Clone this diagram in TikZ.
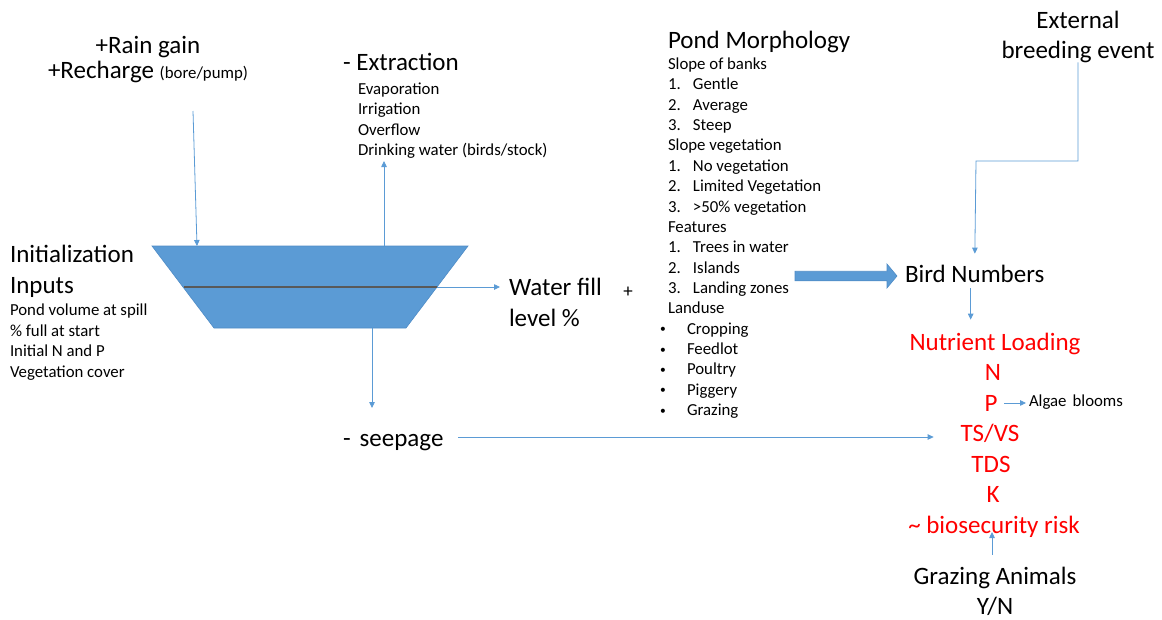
\documentclass[tikz,border=0pt]{standalone}
\usepackage{fontspec}
\setmainfont{Carlito}
\usetikzlibrary{calc,positioning,arrows.meta}

\definecolor{pondblue}{HTML}{5B9BD5}
\definecolor{pondedge}{HTML}{4F8CC6}
\definecolor{loadred}{HTML}{FF0000}
\definecolor{levelgray}{HTML}{595959}

\newcommand{\numitem}[2]{\makebox[25pt][l]{#1}#2}
\newcommand{\dotitem}[1]{\hspace*{-8pt}\makebox[27pt][l]{\raisebox{1.3pt}{\fontsize{11.5}{11.5}\selectfont\textbullet}}#1}

\begin{document}
\begin{tikzpicture}[
  x=1pt, y=-1pt,
  big text/.style={
    font=\fontsize{25}{30.5}\selectfont,
    inner sep=0pt, outer sep=0pt,
    align=left
  },
  small text/.style={
    font=\fontsize{16.8}{20.35}\selectfont,
    inner sep=0pt, outer sep=0pt,
    align=left
  },
  load text/.style={
    big text,
    text=loadred
  },
  flow/.style={
    draw=pondblue,
    line width=0.8pt,
    -{Triangle[length=6pt,width=5.5pt]}
  },
  pond/.style={
    fill=pondblue,
    draw=pondedge,
    line width=0.6pt
  },
  level line/.style={
    draw=levelgray,
    line width=1.6pt
  },
  fat arrow/.style={
    fill=pondblue,
    draw=pondedge,
    line width=0.6pt
  }
  ]
\useasboundingbox (0,0) rectangle (1162,619);
% Pond
\coordinate (pond tl) at (152,246);
\coordinate (pond tr) at (468,246);
\coordinate (pond br) at (406,328);
\coordinate (pond bl) at (214,328);
\coordinate (pond ml) at (183.5,287);
\coordinate (pond mr) at (437,287);
\filldraw [pond] (pond tl) -- (pond tr) -- (pond br) -- (pond bl) -- cycle;
\draw [level line] (pond ml) -- (pond mr);
% Rain gain (multi-line nodes sit on the baseline of their last line)
\node [big text, align=center, anchor=base, font=\fontsize{25}{25}\selectfont] (rain) at (148,78)
  {+Rain gain\\ +Recharge {\fontsize{16.8}{20}\selectfont (bore/pump)}};
\coordinate (rain drop) at (193,111);
\coordinate (pond rain) at (197,246);
\draw [flow] (rain drop) -- (pond rain);
% Extraction
\node [big text, anchor=base west] (extraction) at (343,70) {- Extraction};
\node [small text, anchor=base west] (extraction list) at (358,155.5)
  {Evaporation\\ Irrigation\\ Overflow\\ Drinking water (birds/stock)};
\coordinate (pond extract) at (384,246);
\coordinate (extract tip) at (384,161);
\draw [flow] (pond extract) -- (extract tip);
% Initialization
\node [big text, anchor=base west] (init) at (10,293) {Initialization\\ Inputs};
\node [small text, anchor=base west] (init list) at (10,377)
  {Pond volume at spill\\ \% full at start\\ Initial N and P\\ Vegetation cover};
% Water fill level
\node [big text, anchor=base west] (water fill) at (509,326) {Water fill\\ level \%};
\node [small text, font=\fontsize{19}{20}\selectfont] (plus) at (628,292) {+};
\coordinate (water in) at (500,287);
\draw [flow] (pond mr) -- (water in);
% Seepage
\node [big text, anchor=base west] (seepage) at (343,446) {-\hspace{9pt}seepage};
\coordinate (pond drain) at (372,328);
\coordinate (drain tip) at (372,408);
\draw [flow] (pond drain) -- (drain tip);
% Pond Morphology
\node [big text, anchor=base west] (morphology) at (668,48) {Pond Morphology};
\node [small text, anchor=base west] (morphology list) at (668,415.5)
  {Slope of banks\\
   \numitem{1.}{Gentle}\\
   \numitem{2.}{Average}\\
   \numitem{3.}{Steep}\\
   Slope vegetation\\
   \numitem{1.}{No vegetation}\\
   \numitem{2.}{Limited Vegetation}\\
   \numitem{3.}{>50\% vegetation}\\
   Features\\
   \numitem{1.}{Trees in water}\\
   \numitem{2.}{Islands}\\
   \numitem{3.}{Landing zones}\\
   Landuse\\
   \dotitem{Cropping}\\
   \dotitem{Feedlot}\\
   \dotitem{Poultry}\\
   \dotitem{Piggery}\\
   \dotitem{Grazing}};
% Bird Numbers
\node [big text, anchor=base west] (birds) at (905,282) {Bird Numbers};
\coordinate (morph out) at (795,276);
\filldraw [fat arrow] ($(morph out)+(0,-4.75)$) -- ++(92,0) -- ++(0,-7.25) -- ++(10,12)
  -- ++(-10,12) -- ++(0,-7.25) -- ++(-92,0) -- cycle;
% External breeding event
\node [big text, align=center, anchor=base, font=\fontsize{25}{30}\selectfont] (breeding) at (1078,58)
  {External\\ breeding event};
\coordinate (breeding bend) at (976,161);
\draw [flow, shorten >=11pt] (breeding.south) |- (breeding bend) -- (birds.north);
% Nutrient Loading
\node [load text, anchor=base] (loading) at (995,350) {Nutrient Loading};
\node [load text, anchor=base] (load N) at (993,380.5) {N};
\node [load text, anchor=base] (load P) at (991,411) {P};
\node [load text, anchor=base] (load TSVS) at (990,441.5) {TS/VS};
\node [load text, anchor=base] (load TDS) at (991,472) {TDS};
\node [load text, anchor=base] (load K) at (993,502.5) {K};
\node [load text, anchor=base] (biosecurity) at (994,533) {\textasciitilde\ biosecurity risk};
\draw [flow, shorten <=6pt, shorten >=13pt] ([xshift=-4pt]birds.south) -- ([xshift=-4pt]birds.south |- loading.north);
% Algae blooms
\node [small text, anchor=base west] (algae) at (1029,406.5) {Algae\hspace{6pt}blooms};
\draw [flow, shorten <=7pt, shorten >=3pt] (load P.east) -- (load P.east -| algae.west);
% Seepage to nutrient loading
\coordinate (seep out) at ($(seepage.base east)+(15,-9)$);
\draw [flow, shorten >=27pt] (seep out) -- (seep out -| load TSVS.west);
% Grazing Animals
\node [big text, align=center, anchor=base, font=\fontsize{25}{30}\selectfont] (grazing) at (995,614)
  {Grazing Animals\\ Y/N};
\draw [flow] ([xshift=-3pt,yshift=12pt]grazing.north) -- ([xshift=-3pt,yshift=1pt]grazing.north |- biosecurity.base);
\end{tikzpicture}
\end{document}
